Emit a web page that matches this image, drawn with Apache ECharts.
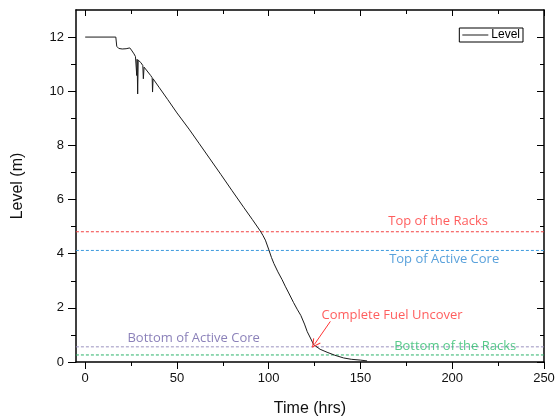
<!DOCTYPE html>
<html>
<head>
<meta charset="utf-8">
<script src="https://cdn.jsdelivr.net/npm/echarts@6/dist/echarts.min.js"></script>
<style>
  html, body { margin: 0; padding: 0; background: #fff; }
  #chart { width: 555px; height: 418px; }
</style>
</head>
<body>
<div id="chart"></div>
<script>
// Pool water level over time (hours) and reference elevations (m)
const timeHrs = [0, 16.7, 17.2, 18.3, 19.3, 20.2, 21.2, 22.3, 23.3, 24.3, 25.2, 26.6, 27.4, 27.9, 28.1, 28.3, 28.6, 28.9, 29.4, 30.3, 31.4, 31.7, 32.1, 33.0, 35.7, 36.5, 36.7, 37.0, 40.2, 45, 50, 56.6, 62, 68, 74, 80, 86.5, 91, 95.4, 96.8, 98.2, 100.1, 101.5, 102.8, 105, 107.3, 109, 110.9, 113.5, 115.5, 117.5, 119.5, 121, 123, 124.5, 125.5, 128, 131.8, 136, 140.8, 145, 150, 153.6];
const levelM  = [12.0, 12.0, 11.66, 11.58, 11.63, 11.56, 11.62, 11.57, 11.63, 11.6, 11.52, 11.38, 11.28, 11.22, 10.58, 11.18, 9.9, 11.15, 11.13, 11.06, 10.95, 10.46, 10.89, 10.82, 10.58, 10.5, 9.97, 10.46, 10.15, 9.69, 9.2, 8.6, 8.08, 7.5, 6.92, 6.33, 5.7, 5.27, 4.84, 4.68, 4.5, 4.14, 3.86, 3.64, 3.33, 3.04, 2.8, 2.55, 2.2, 1.95, 1.72, 1.4, 1.12, 0.85, 0.64, 0.58, 0.47, 0.36, 0.25, 0.15, 0.1, 0.07, 0.04];

const refNames  = ['Top of the Racks', 'Top of Active Core', 'Bottom of Active Core', 'Bottom of the Racks'];
const refLevels = [4.81, 4.12, 0.56, 0.26];
const refSpan   = [-10.5, 250];
// where each reference label sits [time, level]
const refLabelAt = [[192.3, 5.21], [195.6, 3.81], [59.1, 0.86], [201.6, 0.58]];

const uncoverText  = 'Complete Fuel Uncover';
const uncoverLabel = [167.2, 1.71];
const arrowTail    = [133.6, 1.5];
const arrowTip     = [125.0, 0.66];

const xTicks      = [0, 50, 100, 150, 200, 250];
const xMinorTicks = [25, 75, 125, 175, 225];
const yTicks      = [0, 2, 4, 6, 8, 10, 12];
const yMinorTicks = [1, 3, 5, 7, 9, 11];

const lineColors  = ['#f24040', '#3c9ade', '#9a92bf', '#2bb36a'];
const labelColors = ['#ff3434', '#2f8ad2', '#6e62a8', '#2cbd6b'];

const axisFont = 'Liberation Sans, Arial, sans-serif';
const noteFont = 'Open Sans, Noto Sans, sans-serif';

const chart = echarts.init(document.getElementById('chart'), null, { renderer: 'canvas' });

const X_MIN = -5, X_MAX = 250, Y_MIN = 0, Y_MAX = 13;

function xAxisDef(opts) {
  return Object.assign({
    type: 'value', min: X_MIN, max: X_MAX, gridIndex: 0,
    splitLine: { show: false },
    axisLine: { show: false, onZero: false },
    axisTick: { show: true, customValues: xTicks, length: 7, lineStyle: { color: '#000', width: 1 } },
    axisLabel: { show: false, customValues: xTicks },
  }, opts);
}
function yAxisDef(opts) {
  return Object.assign({
    type: 'value', min: Y_MIN, max: Y_MAX, gridIndex: 0,
    splitLine: { show: false },
    axisLine: { show: false, onZero: false },
    axisTick: { show: true, customValues: yTicks, length: 8, lineStyle: { color: '#000', width: 1 } },
    axisLabel: { show: false, customValues: yTicks },
  }, opts);
}

const series = [];

// reference elevations as dashed horizontal lines
refLevels.forEach((v, i) => {
  series.push({
    name: refNames[i], type: 'line', xAxisIndex: 0, yAxisIndex: 0,
    data: [[refSpan[0], v], [refSpan[1], v]],
    symbol: 'none', clip: false, silent: true, z: 2,
    lineStyle: { color: lineColors[i], width: 1, type: [3, 2] },
    itemStyle: { color: lineColors[i] },
  });
  series.push({
    name: refNames[i] + ' label', type: 'scatter', xAxisIndex: 0, yAxisIndex: 0,
    data: [refLabelAt[i]], symbolSize: 0, silent: true, z: 5,
    label: {
      show: true, position: 'inside', formatter: refNames[i],
      color: labelColors[i], fontFamily: noteFont, fontSize: 13,
    },
  });
});

// water level curve
series.push({
  name: 'Level', type: 'line', xAxisIndex: 0, yAxisIndex: 0,
  data: timeHrs.map((t, i) => [t, levelM[i]]),
  symbol: 'none', z: 4,
  lineStyle: { color: '#1a1a1a', width: 1 },
  itemStyle: { color: '#1a1a1a' },
});

// uncover note with arrow
series.push({
  name: 'uncover', type: 'scatter', xAxisIndex: 0, yAxisIndex: 0,
  data: [uncoverLabel], symbolSize: 0, silent: true, z: 5,
  label: { show: true, position: 'inside', formatter: uncoverText, color: '#ff3434', fontFamily: noteFont, fontSize: 13 },
  markLine: {
    silent: true, animation: false,
    symbol: ['none', 'path://M0,0 L6,9 L4.8,9.6 L0,2.4 L-4.8,9.6 L-6,9 Z'],
    symbolSize: [9, 9],
    label: { show: false },
    lineStyle: { color: '#ff3434', width: 1, type: 'solid' },
    data: [[{ coord: arrowTail }, { coord: arrowTip }]],
  },
});

const option = {
  animation: false,
  backgroundColor: '#fff',
  grid: { left: 76, right: 11, top: 10, bottom: 56, show: false, containLabel: false, outerBoundsMode: 'none' },
  legend: {
    data: ['Level'], right: 32, top: 28,
    borderColor: '#000', borderWidth: 1, borderRadius: 0,
    backgroundColor: '#fff',
    padding: [1, 3, 1, 3], itemWidth: 26, itemHeight: 10, itemGap: 4,
    icon: 'path://M0,4.5 L26,4.5 L26,5.5 L0,5.5 Z',
    textStyle: { fontFamily: axisFont, fontSize: 12, color: '#000', padding: [0, 0, 0, -2] },
  },
  xAxis: [
    // bottom: labels + outward major ticks
    xAxisDef({
      position: 'bottom',
      axisLine: { show: true, onZero: false, lineStyle: { color: '#000', width: 1.5 } },
      axisLabel: { show: true, customValues: xTicks, margin: 10, fontFamily: axisFont, fontSize: 13, color: '#111' },
      name: 'Time (hrs)', nameLocation: 'middle', nameGap: 39,
      nameTextStyle: { fontFamily: axisFont, fontSize: 16, color: '#111' },
    }),
    // bottom minor ticks
    xAxisDef({ position: 'bottom', axisTick: { show: true, customValues: xMinorTicks, length: 4, lineStyle: { color: '#000' } } }),
    // top frame with inward ticks
    xAxisDef({
      position: 'top',
      axisLine: { show: true, onZero: false, lineStyle: { color: '#000', width: 1.5 } },
      axisTick: { show: true, inside: true, customValues: xTicks, length: 6, lineStyle: { color: '#000' } },
    }),
    xAxisDef({ position: 'top', axisTick: { show: true, inside: true, customValues: xMinorTicks, length: 4, lineStyle: { color: '#000' } } }),
  ],
  yAxis: [
    yAxisDef({
      position: 'left',
      axisLine: { show: true, onZero: false, lineStyle: { color: '#000', width: 1.5 } },
      axisLabel: { show: true, customValues: yTicks, margin: 12, fontFamily: axisFont, fontSize: 13, color: '#111' },
      name: 'Level (m)', nameLocation: 'middle', nameGap: 50,
      nameTextStyle: { fontFamily: axisFont, fontSize: 16, color: '#111' },
    }),
    yAxisDef({ position: 'left', axisTick: { show: true, customValues: yMinorTicks, length: 5, lineStyle: { color: '#000' } } }),
    yAxisDef({
      position: 'right',
      axisLine: { show: true, onZero: false, lineStyle: { color: '#000', width: 1.5 } },
      axisTick: { show: true, inside: true, customValues: yTicks, length: 7, lineStyle: { color: '#000' } },
    }),
    yAxisDef({ position: 'right', axisTick: { show: true, inside: true, customValues: yMinorTicks, length: 4, lineStyle: { color: '#000' } } }),
  ],
  series: series,
};

chart.setOption(option);
</script>
</body>
</html>
